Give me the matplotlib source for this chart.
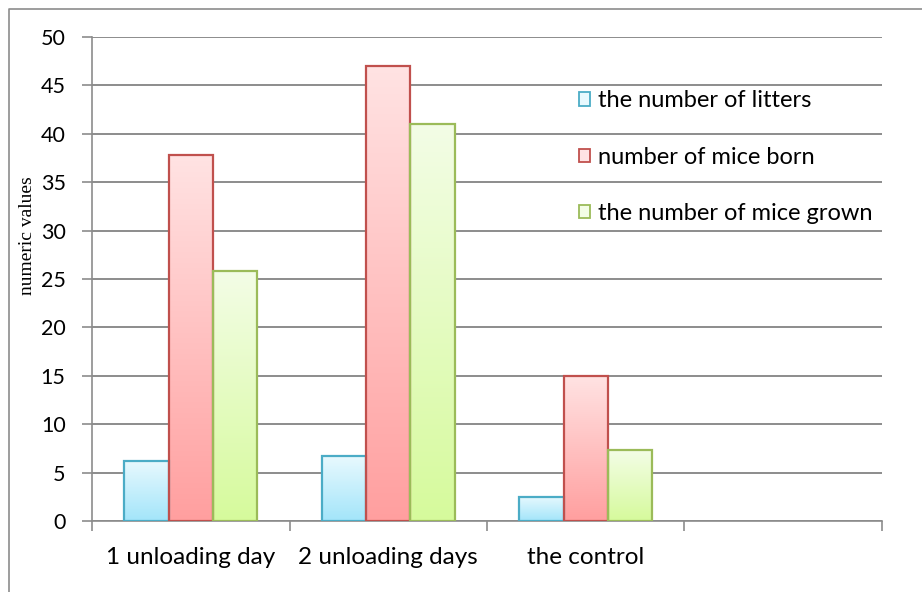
import numpy as np
import matplotlib.pyplot as plt
from matplotlib.patches import Rectangle
from matplotlib.lines import Line2D
from matplotlib.colors import LinearSegmentedColormap

categories = ['1 unloading day', '2 unloading days', 'the control', '']
litters = [6.2, 6.7, 2.5, np.nan]
mice_born = [37.8, 47.0, 15.0, np.nan]
mice_grown = [25.8, 41.0, 7.3, np.nan]
series_names = ['the number of litters', 'number of mice born', 'the number of mice grown']

# (top colour, bottom colour, edge colour)
styles = [('#e8f9fe', '#a3e5fa', '#4bacc6'),
          ('#ffe3e3', '#ff9f9f', '#c0504d'),
          ('#f3fde6', '#d6fa9c', '#9bbb59')]

plt.rcParams['font.family'] = ['Lato', 'DejaVu Sans']

fig = plt.figure(figsize=(9.22, 5.92), dpi=100)
# chart area border (only left and top edges are visible)
fig.lines.append(Line2D([0.0098, 0.0098, 1.0], [0.0, 0.985, 0.985], transform=fig.transFigure,
                        color='#8c8c8c', linewidth=1.2))
ax = fig.add_axes([0.0998, 0.1199, 0.8568, 0.8176])

x = np.arange(len(categories))
w = 0.225
grad = np.linspace(0, 1, 256).reshape(-1, 1)
for i, vals in enumerate([litters, mice_born, mice_grown]):
    top, bot, edge = styles[i]
    cmap = LinearSegmentedColormap.from_list('g%d' % i, [bot, top])
    bars = ax.bar(x + (i - 1) * w, vals, w, facecolor='none', edgecolor=edge,
                  linewidth=1.6, zorder=4)
    for b in bars:
        if np.isnan(b.get_height()):
            continue
        x0, y0 = b.get_x(), b.get_y()
        im = ax.imshow(grad, cmap=cmap, origin='lower', aspect='auto', zorder=3,
                       extent=[x0, x0 + b.get_width(), y0, y0 + b.get_height()])
        im.set_clip_path(b)

ax.set_xlim(-0.5, 3.5)
ax.set_ylim(0, 50)
ax.set_yticks(np.arange(0, 51, 5))
ax.set_xticks(x)
ax.set_xticklabels(categories)
ax.set_xticks(np.arange(-0.5, 3.6, 1), minor=True)
ax.tick_params(axis='x', which='major', length=0, pad=19, labelsize=17.5)
ax.tick_params(axis='x', which='minor', length=7, width=1.2, color='#8c8c8c', direction='out')
ax.tick_params(axis='y', length=7, width=1.2, color='#8c8c8c', labelsize=15.5, pad=12)
ax.grid(axis='y', color='#8c8c8c', linewidth=1.4, zorder=1)
ax.set_axisbelow(True)
for s in ['top', 'right']:
    ax.spines[s].set_visible(False)
for s in ['left', 'bottom']:
    ax.spines[s].set_color('#8c8c8c')
    ax.spines[s].set_linewidth(1.2)

ax.set_ylabel('numeric values', family='Liberation Serif', fontsize=14)
ax.yaxis.set_label_coords(-0.071, 0.59)

handles = [Rectangle((0, 0), 1, 1, facecolor=s[0], edgecolor=s[2], linewidth=1.3) for s in styles]
leg = ax.legend(handles, series_names, loc='upper left', bbox_to_anchor=(0.616, 0.89),
                frameon=False, fontsize=17, handlelength=0.5, handleheight=0.5,
                handletextpad=0.3, labelspacing=1.5, borderaxespad=0, borderpad=0)

fig.savefig('out.png', dpi=100, facecolor='w')
